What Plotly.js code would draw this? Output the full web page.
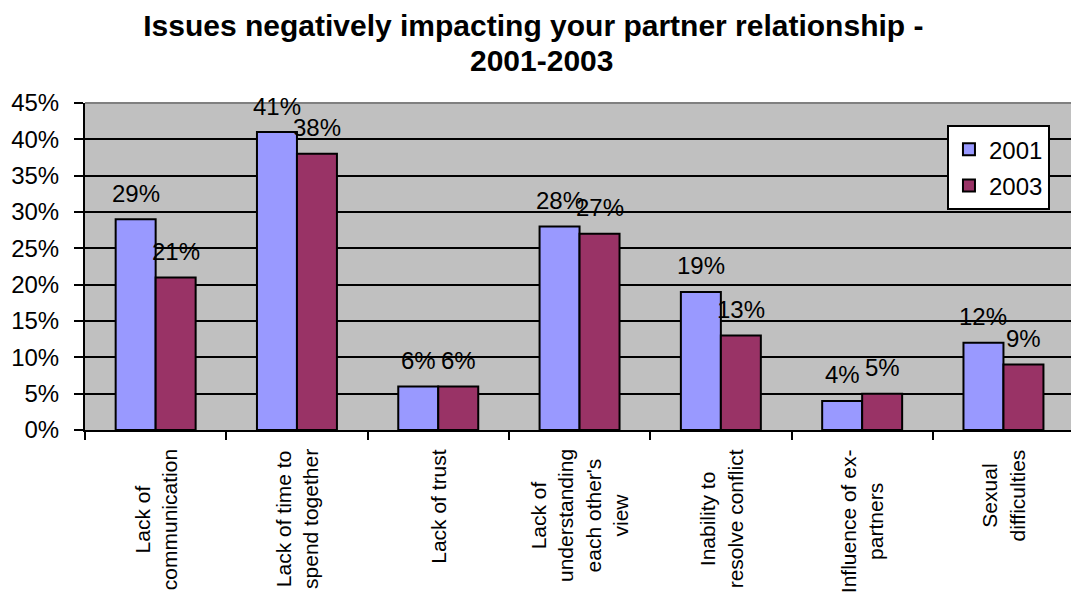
<!DOCTYPE html>
<html>
<head>
<meta charset="utf-8">
<script src="https://cdn.plot.ly/plotly-3.0.1.min.js"></script>
<style>html,body{margin:0;padding:0;background:#fff;overflow:hidden;}</style>
</head>
<body>
<div id="chart" style="width:1071px;height:592px;"></div>
<script>
// ---- data ----
var categories = ["Lack of communication","Lack of time to spend together","Lack of trust",
  "Lack of understanding each other's view","Inability to resolve conflict",
  "Influence of ex-partners","Sexual difficulties"];
var categoryLabels = ["Lack of<br>communication","Lack of time to<br>spend together","Lack of trust",
  "Lack of<br>understanding<br>each other's<br>view","Inability to<br>resolve conflict",
  "Influence of ex-<br>partners","Sexual<br>difficulties"];
var seriesNames = ["2001","2003"];
var values2001 = [29, 41, 6, 28, 19, 4, 12];
var values2003 = [21, 38, 6, 27, 13, 5, 9];
var yTickVals = [0,5,10,15,20,25,30,35,40,45];
var yTickText = ["0%","5%","10%","15%","20%","25%","30%","35%","40%","45%"];
var titleLine1 = "Issues negatively impacting your partner relationship -";
var titleLine2 = "2001-2003";

var FONT = "Liberation Sans, Arial, sans-serif";
var BARGAP = 0.434;
var colors = ["#9999FF","#993366"];
var allValues = [values2001, values2003];
var idx = categories.map(function(_, i){ return i; });

var traces = allValues.map(function(vals, s){
  return {
    type: "bar",
    name: seriesNames[s],
    x: idx,
    y: vals,
    legendgroup: "g" + s,
    marker: {color: colors[s], line: {color: "#000", width: 2}},
    hoverinfo: "skip"
  };
});

var annotations = [];
var off = (1 - BARGAP) / 4;
allValues.forEach(function(vals, s){
  vals.forEach(function(v, i){
    annotations.push({
      x: i + (s === 0 ? -off : off), y: v, xref: "x", yref: "y",
      text: v + "%", showarrow: false, yanchor: "middle", xanchor: "center",
      yshift: 26, font: {family: FONT, size: 24, color: "#000"}
    });
  });
});
categoryLabels.forEach(function(lbl, i){
  annotations.push({
    x: i, y: 0, xref: "x", yref: "paper", text: lbl, showarrow: false,
    textangle: -90, yanchor: "top", xanchor: "center", align: "center",
    yshift: -17, font: {family: FONT, size: 21, color: "#000"}
  });
});
annotations.push({
  x: 0.4625, y: 1.1298, xref: "paper", yref: "paper", text: "<b>" + titleLine2 + "</b>",
  showarrow: false, yanchor: "middle", xanchor: "center",
  font: {family: FONT, size: 30, color: "#000"}
});

var layout = {
  width: 1071, height: 592,
  margin: {l: 85, r: 0, t: 103, b: 161.5, pad: 0},
  paper_bgcolor: "#fff", plot_bgcolor: "#C0C0C0",
  font: {family: FONT, color: "#000"},
  title: {text: "<b>" + titleLine1 + "</b>", x: 0.498, xref: "container", xanchor: "center",
    y: 0.957, yref: "container", yanchor: "middle",
    font: {family: FONT, size: 30, color: "#000"}},
  barmode: "group", bargap: BARGAP, bargroupgap: 0,
  xaxis: {type: "linear", range: [-0.5, 6.478], showticklabels: false,
    ticks: "outside", ticklen: 8, tickwidth: 2, tickcolor: "#000",
    tickvals: [-0.5,0.5,1.5,2.5,3.5,4.5,5.5,6.5],
    showgrid: false, zeroline: false, showline: true, linecolor: "#000", linewidth: 2,
    fixedrange: true},
  yaxis: {range: [0, 45], tickvals: yTickVals, ticktext: yTickText,
    ticks: "outside", ticklen: 9, tickwidth: 2, tickcolor: "#000",
    ticklabelstandoff: 10,
    tickfont: {family: FONT, size: 24, color: "#000"},
    showgrid: true, gridcolor: "#000", gridwidth: 2,
    zeroline: false, showline: true, linecolor: "#000", linewidth: 2, fixedrange: true},
  legend: {x: 0.8742, y: 0.932, xanchor: "left", yanchor: "top",
    bgcolor: "#fff", bordercolor: "#000", borderwidth: 2,
    traceorder: "grouped", tracegroupgap: 2,
    font: {family: FONT, size: 24, color: "#000"}},
  showlegend: true,
  annotations: annotations,
  shapes: [{type: "line", xref: "paper", yref: "paper", x0: 0, x1: 1, y0: 1, y1: 1,
    line: {color: "#808080", width: 2}, layer: "above"}]
};

Plotly.newPlot("chart", traces, layout, {displayModeBar: false, staticPlot: true});
</script>
</body>
</html>
